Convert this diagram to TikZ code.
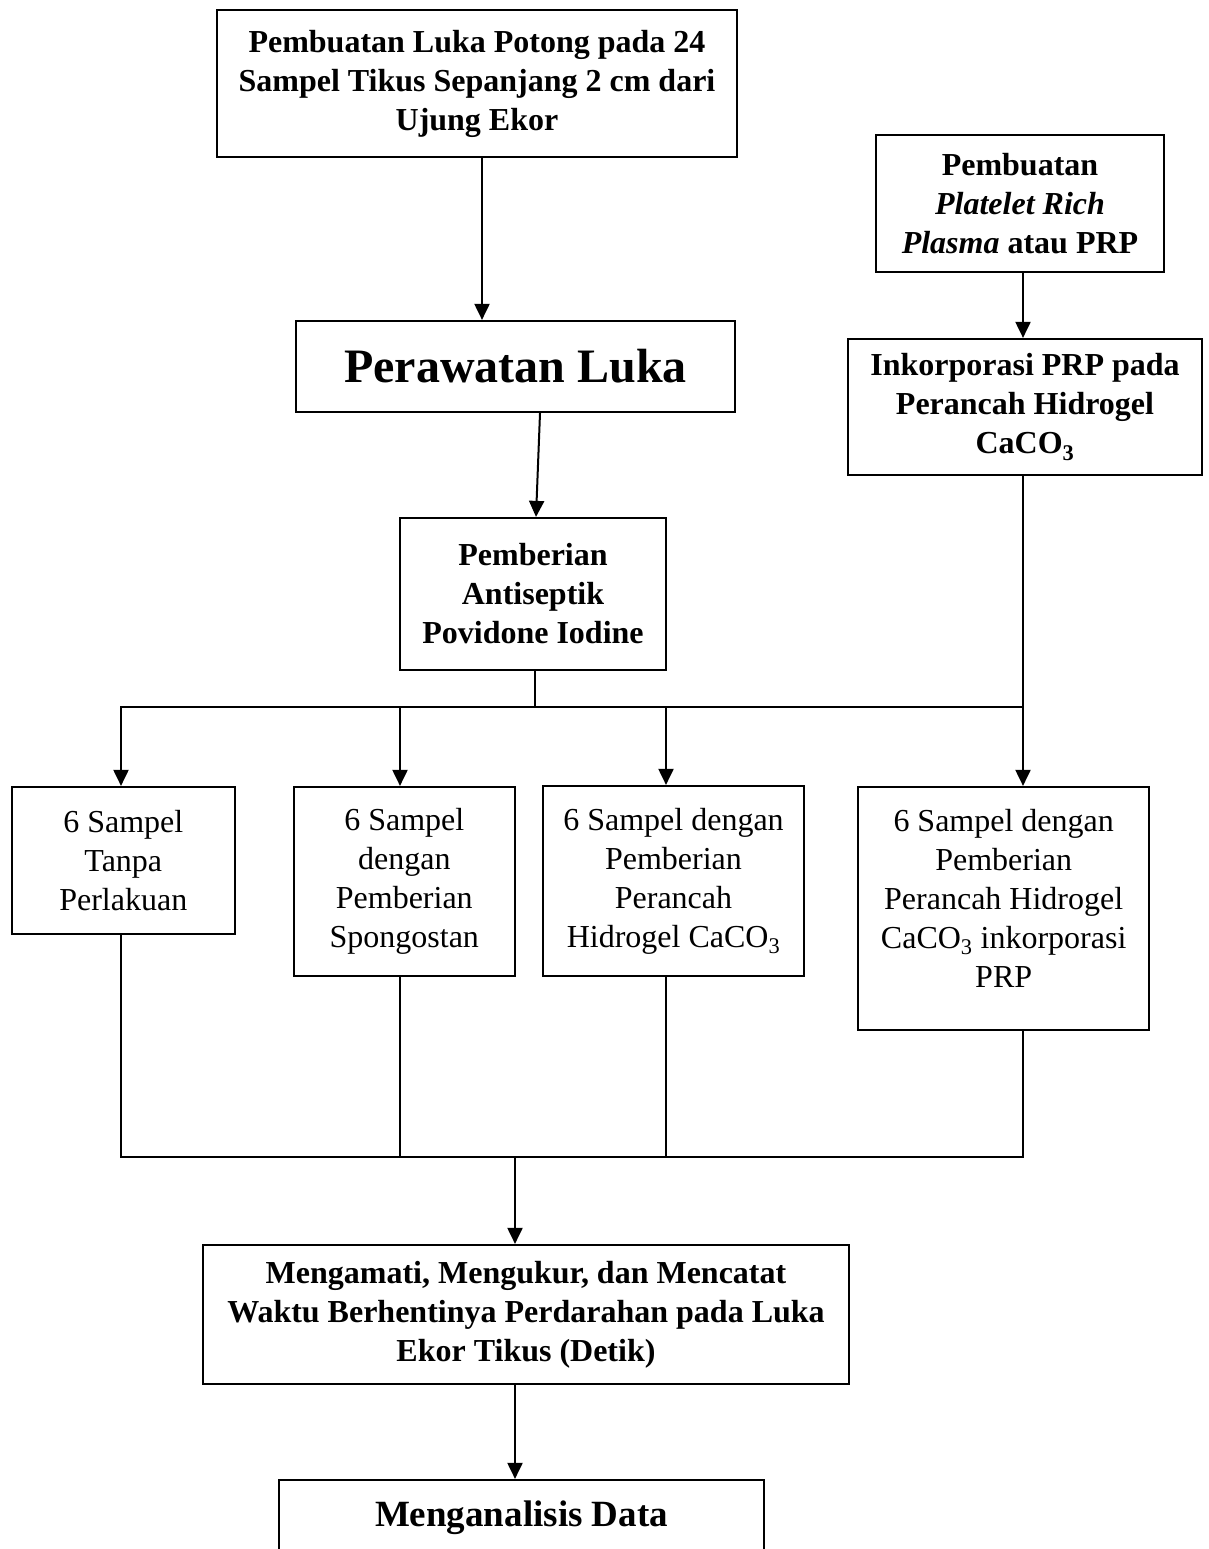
\documentclass[tikz,border=0pt]{standalone}
\usepackage{fontspec}
\setmainfont{Liberation Serif}
\usetikzlibrary{arrows.meta}
\begin{document}
\begin{tikzpicture}[x=1pt,y=-1pt,
  box/.style={draw,line width=2.2pt,inner sep=0pt,align=center,font=\fontsize{32}{39}\selectfont},
  bbox/.style={box,font=\bfseries\fontsize{32}{39}\selectfont},
  conn/.style={line width=2pt},
  arr/.style={conn,-{Triangle[length=16pt,width=15pt]}}]
\useasboundingbox (0,0) rectangle (1208,1549);
\clip (0,0) rectangle (1208,1549);
\fill[white] (0,0) rectangle (1208,1549);
% boxes
\node[bbox,minimum width=520,minimum height=147] (A) at (477,83.5)
  {Pembuatan Luka Potong pada 24\\Sampel Tikus Sepanjang 2 cm dari\\Ujung Ekor};
\node[bbox,minimum width=288,minimum height=137] (P) at (1020,203.5)
  {Pembuatan\\\textit{Platelet Rich}\\\textit{Plasma} atau PRP};
\node[box,font=\bfseries\fontsize{48}{56}\selectfont,minimum width=439,minimum height=91] (B) at (515.5,366.5)
  {Perawatan Luka};
\node[bbox,minimum width=354,minimum height=136] (I) at (1025,407)
  {Inkorporasi PRP pada\\Perancah Hidrogel\\CaCO\textsubscript{3}};
\node[bbox,minimum width=266,minimum height=152] (C) at (533,594)
  {Pemberian\\Antiseptik\\Povidone Iodine};
\node[box,minimum width=223,minimum height=147] (D1) at (123.3,860.5)
  {6 Sampel\\Tanpa\\Perlakuan};
\node[box,minimum width=221,minimum height=189] (D2) at (404.3,881.5)
  {6 Sampel\\dengan\\Pemberian\\Spongostan};
\node[box,minimum width=261,minimum height=190] (D3) at (673.5,881)
  {6 Sampel dengan\\Pemberian\\Perancah\\Hidrogel CaCO\textsubscript{3}};
\node[box,minimum width=291,minimum height=243] (D4) at (1003.7,908.5)
  {6 Sampel dengan\\Pemberian\\Perancah Hidrogel\\CaCO\textsubscript{3} inkorporasi\\PRP\\[-19pt]~};
\node[bbox,minimum width=646,minimum height=139] (E) at (526,1314.5)
  {Mengamati, Mengukur, dan Mencatat\\Waktu Berhentinya Perdarahan pada Luka\\Ekor Tikus (Detik)};
\node[box,font=\bfseries\fontsize{37}{44}\selectfont,minimum width=485,minimum height=76] (F) at (521.5,1518)
  {Menganalisis Data};
% bus coordinates
\coordinate (t1) at (121,707);
\coordinate (t2) at (400,707);
\coordinate (t3) at (666,707);
\coordinate (t4) at (1023,707);
\coordinate (b1) at (121,1157);
\coordinate (b2) at (400,1157);
\coordinate (b3) at (666,1157);
\coordinate (b4) at (1023,1157);
\coordinate (bm) at (515,1157);
% connectors
\draw[arr] ([xshift=5]A.south) -- ([xshift=5]A.south |- B.north);
\draw[arr] ([xshift=3]P.south) -- ([xshift=3]P.south |- I.north);
\draw[arr] ([xshift=24.5]B.south) -- ([xshift=3]C.north);
\draw[conn] ([xshift=2]C.south) -- ([xshift=2]C.south |- t1);
\draw[conn] (t4 |- I.south) -- (t4);
\draw[conn,line cap=rect] (t1) -- (t4);
\draw[arr] (t1) -- (t1 |- D1.north);
\draw[arr] (t2) -- (t2 |- D2.north);
\draw[arr] (t3) -- (t3 |- D3.north);
\draw[arr] (t4) -- (t4 |- D4.north);
\draw[conn] (b1 |- D1.south) -- (b1);
\draw[conn] (b2 |- D2.south) -- (b2);
\draw[conn] (b3 |- D3.south) -- (b3);
\draw[conn] (b4 |- D4.south) -- (b4);
\draw[conn,line cap=rect] (b1) -- (b4);
\draw[arr] (bm) -- (bm |- E.north);
\draw[arr] (bm |- E.south) -- (bm |- F.north);
\end{tikzpicture}
\end{document}
